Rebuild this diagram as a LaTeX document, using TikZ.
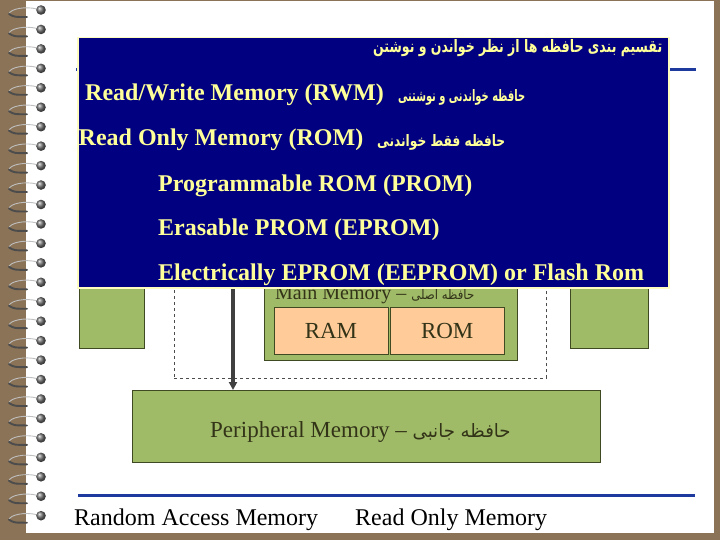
\documentclass[tikz,border=0pt]{standalone}
\usepackage{fontspec}
\usepackage{graphicx}
\setmainfont{Liberation Serif}
\newfontfamily\fa[Script=Arabic]{DejaVu Sans}
\TeXXeTstate=1
\usetikzlibrary{arrows.meta}
\definecolor{bgbrown}{HTML}{8B7357}
\definecolor{navyb}{HTML}{000080}
\definecolor{ytext}{HTML}{FFFF99}
\definecolor{gfill}{HTML}{9FBB68}
\definecolor{gline}{HTML}{3F4A22}
\definecolor{peach}{HTML}{FFCC99}
\definecolor{dtext}{HTML}{333318}
\definecolor{rule}{HTML}{1F3A9E}
\newcommand{\fitfa}[3]{\resizebox{#1}{#2}{\fa #3}}
\tikzset{
  gbox/.style={draw=gline, fill=gfill, line width=0.9pt, inner sep=0pt, anchor=north west},
  pbox/.style={draw=gline, fill=peach, line width=0.9pt, inner sep=0pt, anchor=north west, text=dtext, font=\fontsize{23}{26}\selectfont},
  ylab/.style={text=ytext, inner sep=0pt, font=\bfseries\fontsize{24}{28}\selectfont, anchor=base west},
  yfa/.style={text=ytext, inner sep=0pt, anchor=base west},
  dlab/.style={text=dtext, inner sep=0pt, anchor=base west},
  arr/.style={draw=black!75, line width=3.2pt, -{Triangle[length=8pt,width=8pt]}},
}
\begin{document}
\begin{tikzpicture}[x=1pt,y=-1pt]
\useasboundingbox (0,0) rectangle (720,540);
\fill[bgbrown] (0,0) rectangle (720,540);
\fill[white] (26,1.5) rectangle (714,533);
% spiral rings
\foreach \i in {0,...,26} {
  \pgfmathsetmacro\yy{10+\i*19.45}
  \draw[gray!50, line width=0.9pt] (37,\yy-1) .. controls (25,\yy-4) and (10,\yy-1) .. (9,\yy+4);
  \draw[black!70, line width=1.9pt, line cap=round] (9,\yy+4) .. controls (14,\yy+7) .. (27,\yy+7);
  \shade[ball color=black!55] (41,\yy) circle (4.8pt);
}
% title rule and bottom rule
\draw[rule, line width=3pt] (76,70) -- (696,70);
\draw[rule, line width=3pt] (78,495) -- (695,495);
% diagram
\node[gbox, minimum width=65.5pt, minimum height=100pt] (lbox) at (78.5,248) {};
\node[gbox, minimum width=78pt, minimum height=100pt] (rbox) at (570,248) {};
\node[draw=black!70, dashed, line width=0.8pt, inner sep=0pt, anchor=north west, minimum width=372pt, minimum height=128pt] (dash) at (174,250) {};
\node[gbox, minimum width=253pt, minimum height=95pt] (mm) at (264,265) {};
\node[dlab, font=\fontsize{20}{24}\selectfont] (mmlab) at (275,299) {Main Memory – \fitfa{63pt}{10pt}{\beginR حافظه اصلی\endR}};
\node[pbox, minimum width=114pt, minimum height=47pt] (ram) at (273.5,307) {RAM};
\node[pbox, minimum width=113.5pt, minimum height=47pt] (rom) at (390,307) {ROM};
\node[gbox, minimum width=468pt, minimum height=72pt] (per) at (132,390) {};
\node[dlab, font=\fontsize{23}{26}\selectfont] (perlab) at (210,437) {Peripheral Memory – \fitfa{98pt}{14pt}{\beginR حافظه جانبی\endR}};
\coordinate (atop) at (233,255);
\draw[arr] (atop) -- (atop |- per.north);
% bottom labels
\node[inner sep=0pt, anchor=base west, font=\fontsize{24}{28}\selectfont] (ram2) at (74,525) {Random Access Memory};
\node[inner sep=0pt, anchor=base west, font=\fontsize{24}{28}\selectfont] (rom2) at (355,525) {Read Only Memory};
% overlay box
\node[fill=navyb, draw=yellow!25, line width=1.5pt, inner sep=0pt, anchor=north west, minimum width=591pt, minimum height=250pt] (ov) at (77,37) {};
\node[yfa] (l1) at (373,53) {\fitfa{289pt}{13pt}{\bfseries\beginR تقسیم بندی حافظه ها از نظر خواندن و نوشتن\endR}};
\node[ylab] (rwm) at (85,101) {Read/Write Memory (RWM)};
\node[yfa] (rwmfa) at (398,102) {\fitfa{127pt}{12pt}{\bfseries\beginR حافظه خواندنی و نوشتنی\endR}};
\node[ylab] (ro) at (78.5,146) {Read Only Memory (ROM)};
\node[yfa] (rofa) at (377,147) {\fitfa{128pt}{12pt}{\bfseries\beginR حافظه فقط خواندنی\endR}};
\node[ylab] (prom) at (158,192) {Programmable ROM (PROM)};
\node[ylab] (eprom) at (158,236) {Erasable PROM (EPROM)};
\node[ylab] (eeprom) at (158,280) {Electrically EPROM (EEPROM) or Flash Rom};
\end{tikzpicture}
\end{document}
